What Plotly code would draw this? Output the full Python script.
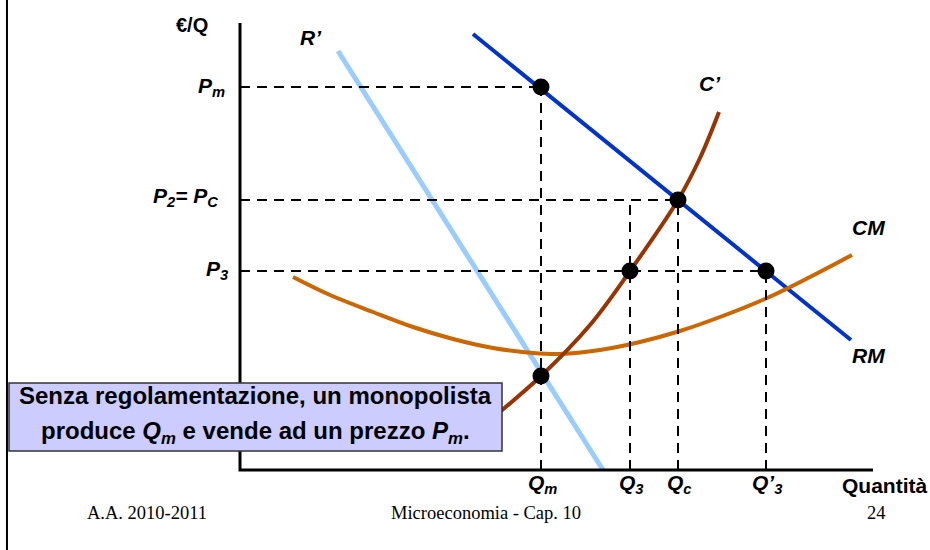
import plotly.graph_objects as go

# ---- data (economic units: quantity, price) ----
q_names = ["Q<sub>m</sub>", "Q<sub>3</sub>", "Q<sub>c</sub>", "Q’<sub>3</sub>"]
q_vals = [30.1, 39.0, 43.8, 52.6]
p_names = ["P<sub>m</sub>", "P<sub>2</sub>= P<sub>C</sub>", "P<sub>3</sub>"]
p_vals = [38.3, 27.0, 19.9]

rm_q = [23.3, 61.1]
rm_p = [43.6, 13.0]
r1_q = [9.8, 36.3]
r1_p = [41.9, 0.0]
c1_q = [25.0, 30.1, 35.0, 39.0, 43.8, 46.0, 47.9]
c1_p = [5.0, 9.4, 14.5, 19.9, 27.0, 31.2, 35.8]
cm_q = [5.3, 9.0, 13.3, 17.3, 21.3, 25.3, 29.3, 32.0, 36.0, 40.0, 44.0, 48.0, 52.7, 57.0, 61.2]
cm_p = [19.3, 17.5, 15.8, 14.3, 13.1, 12.2, 11.7, 11.6, 12.0, 12.8, 13.9, 15.3, 17.2, 19.3, 21.5]
low_dot_p = 9.4

x_axis_end = 63.3
y_axis_end = 44.7

Qm, Q3, Qc, Q3b = q_vals
Pm, Pc, P3 = p_vals

SANS = "Liberation Sans, Arial, sans-serif"
SERIF = "Liberation Serif, Times New Roman, serif"

fig = go.Figure()

# curves
fig.add_trace(go.Scatter(x=r1_q, y=r1_p, mode="lines", line=dict(color="#99ccff", width=5)))
fig.add_trace(go.Scatter(x=rm_q, y=rm_p, mode="lines", line=dict(color="#0033cc", width=4)))
fig.add_trace(go.Scatter(x=cm_q, y=cm_p, mode="lines",
                         line=dict(color="#cc6600", width=4, shape="spline", smoothing=1.0)))
fig.add_trace(go.Scatter(x=c1_q, y=c1_p, mode="lines",
                         line=dict(color="#993300", width=4, shape="spline", smoothing=1.0)))

# dashed guides
dash = dict(color="black", width=2, dash="10px,7px")
for xs, ys in [
    ([0, Qm], [Pm, Pm]),
    ([0, Qc], [Pc, Pc]),
    ([0, Q3b], [P3, P3]),
    ([Qm, Qm], [0, Pm]),
    ([Q3, Q3], [0, Pc]),
    ([Qc, Qc], [0, Pc]),
    ([Q3b, Q3b], [0, P3]),
]:
    fig.add_trace(go.Scatter(x=xs, y=ys, mode="lines", line=dash))

# axes
fig.add_trace(go.Scatter(x=[0, 0, x_axis_end], y=[y_axis_end, 0, 0], mode="lines",
                         line=dict(color="black", width=3)))

# dots
fig.add_trace(go.Scatter(x=[Qm, Qc, Q3, Q3b, Qm], y=[Pm, Pc, P3, P3, low_dot_p], mode="markers",
                         marker=dict(color="black", size=17)))

ann = []
def lab(x, y, text, size=21, xanchor="center", font=SANS):
    ann.append(dict(x=x, y=y, xref="x", yref="y", text=text, showarrow=False,
                    xanchor=xanchor, yanchor="middle",
                    font=dict(family=font, size=size, color="black")))

lab(-4.8, 44.5, "<b>€/Q</b>", size=20)
# price labels
lab(-1.3, Pm, "<b><i>" + p_names[0] + "</i></b>", xanchor="right")
lab(-2.0, Pc + 0.3, "<b><i>" + p_names[1] + "</i></b>", xanchor="right")
lab(-1.0, P3 + 0.1, "<b><i>" + p_names[2] + "</i></b>", xanchor="right")
# quantity labels
for qv, qn in zip(q_vals, q_names):
    lab(qv + 0.1, -1.4, "<b><i>" + qn + "</i></b>")
lab(64.4, -1.5, "<b>Quantità</b>", size=21)
# curve labels
lab(7.1, 43.3, "<b><i>R’</i></b>")
lab(47.0, 38.7, "<b><i>C’</i></b>")
lab(62.8, 24.3, "<b><i>CM</i></b>")
lab(62.8, 11.5, "<b><i>RM</i></b>")
# footer
lab(-9.3, -4.3, "A.A. 2010-2011", size=18.5, font=SERIF)
lab(24.6, -4.3, "Microeconomia - Cap. 10", size=18.5, font=SERIF)
lab(63.6, -4.3, "24", size=18.5, font=SERIF)

# text box
box_x0, box_x1, box_y0, box_y1 = -23.1, 26.2, 1.9, 8.7
shapes = [
    dict(type="rect", xref="x", yref="y", x0=box_x0, x1=box_x1, y0=box_y0, y1=box_y1,
         fillcolor="#ccccff", line=dict(color="#333333", width=1.5), layer="above"),
    dict(type="line", xref="paper", yref="paper", x0=0.0075, x1=0.0075, y0=0, y1=1,
         line=dict(color="black", width=2)),
]
box_cx = (box_x0 + box_x1) / 2
lab(box_cx, 7.5, "<b>Senza regolamentazione, un monopolista</b>", size=24)
lab(box_cx, 3.8, "<b>produce <i>Q<sub>m</sub></i> e vende ad un prezzo <i>P<sub>m</sub></i>.</b>", size=24)

fig.update_layout(
    width=930, height=550, margin=dict(l=0, r=0, t=0, b=0),
    paper_bgcolor="white", plot_bgcolor="white", showlegend=False,
    xaxis=dict(range=[-24, 69], visible=False, fixedrange=True),
    yaxis=dict(range=[-8, 47], visible=False, fixedrange=True),
    shapes=shapes, annotations=ann,
)

fig.write_html("out.html", post_script="document.body.style.margin='0';",
               config={"displayModeBar": False})
